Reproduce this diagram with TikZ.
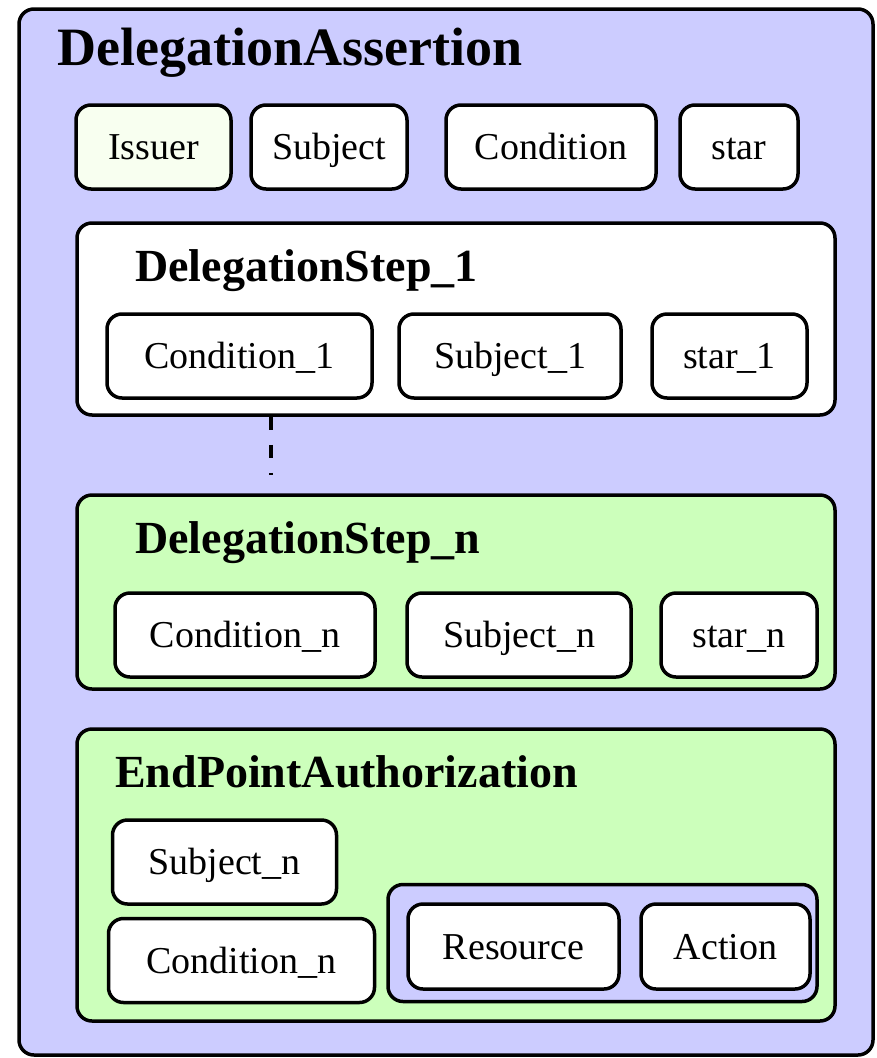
\documentclass[tikz,border=0pt]{standalone}
\usepackage{fontspec}
\setmainfont{Liberation Serif}
\definecolor{assertblue}{RGB}{204,204,255}
\definecolor{stepgreen}{RGB}{204,255,187}
\definecolor{issuerfill}{RGB}{248,255,240}
\begin{document}
\begin{tikzpicture}[x=1pt,y=-1pt,
  frame/.style={draw=black, line width=3.5pt, rounded corners=15pt, inner sep=0pt},
  item/.style={frame, fill=white, font=\fontsize{38}{40}\selectfont,
    text height=25pt, text depth=0pt, inner sep=0pt},
  bigtitle/.style={anchor=base west, inner sep=0pt, font=\fontsize{54}{56}\selectfont\bfseries},
  subtitle/.style={anchor=base west, inner sep=0pt, font=\fontsize{46}{48}\selectfont\bfseries},
  linkdash/.style={line width=3.2pt, dash pattern=on 13pt off 15pt}
]
\useasboundingbox (0,0) rectangle (876,1058);

% outer container
\node[frame, fill=assertblue, minimum width=854pt, minimum height=1046pt] (assertion) at (446,532) {};
\node[bigtitle] (assertiontitle) at (57,65) {DelegationAssertion};

% top row of attributes
\node[item, fill=issuerfill, minimum width=155pt, minimum height=84pt] (issuer) at (153.5,147) {Issuer};
\node[item, minimum width=156pt, minimum height=84pt] (subject) at (329,147) {Subject};
\node[item, minimum width=210pt, minimum height=84pt] (condition) at (551,147) {Condition};
\node[item, minimum width=118pt, minimum height=84pt] (star) at (739,147) {star};

% first delegation step
\node[frame, fill=white, minimum width=758pt, minimum height=192pt] (step1) at (456,319) {};
\node[subtitle] (step1title) at (135,281) {DelegationStep\_1};
\node[item, minimum width=265pt, minimum height=84pt] (cond1) at (239.5,356) {Condition\_1};
\node[item, minimum width=222pt, minimum height=84pt] (subj1) at (510,356) {Subject\_1};
\node[item, minimum width=155pt, minimum height=84pt] (star1) at (729.5,356) {star\_1};

% elided steps
\coordinate (gapend) at (271,475);
\draw[linkdash] (step1.south -| gapend) -- (gapend);

% last delegation step
\node[frame, fill=stepgreen, minimum width=758pt, minimum height=194pt] (stepn) at (456,592) {};
\node[subtitle] (stepntitle) at (135,553) {DelegationStep\_n};
\node[item, minimum width=260pt, minimum height=84pt] (condn) at (245,635) {Condition\_n};
\node[item, minimum width=224pt, minimum height=84pt] (subjn) at (519,635) {Subject\_n};
\node[item, minimum width=156pt, minimum height=84pt] (starn) at (739,635) {star\_n};

% end point authorization
\node[frame, fill=stepgreen, minimum width=758pt, minimum height=292pt] (endpoint) at (456,875) {};
\node[subtitle] (endpointtitle) at (115,787) {EndPointAuthorization};
\node[item, minimum width=224pt, minimum height=84pt] (subjend) at (224.5,862) {Subject\_n};
\node[item, minimum width=266pt, minimum height=84pt] (condend) at (241.5,960.5) {Condition\_n};
\node[frame, fill=assertblue, minimum width=429pt, minimum height=117pt] (target) at (602.5,943) {};
\node[item, minimum width=211pt, minimum height=85pt] (resource) at (513.5,946.5) {Resource};
\node[item, minimum width=169pt, minimum height=85pt] (action) at (725.5,946.5) {Action};
\end{tikzpicture}
\end{document}
